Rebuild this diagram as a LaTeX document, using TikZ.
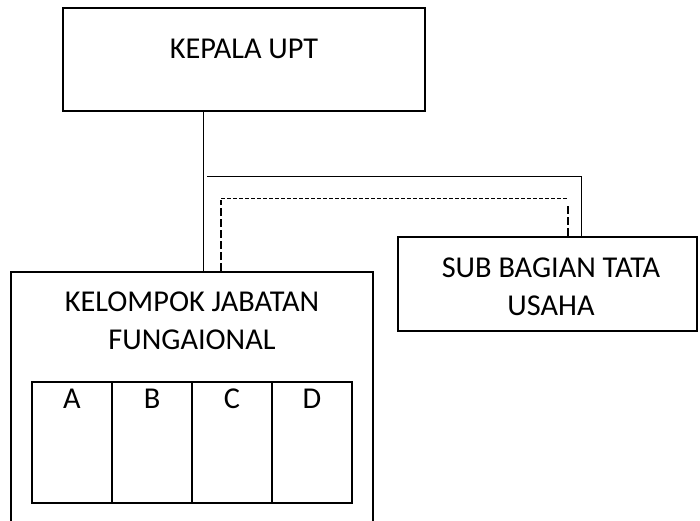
\documentclass[tikz,border=0pt]{standalone}
\usepackage{fontspec}
\setmainfont{Carlito}
\begin{document}
\begin{tikzpicture}[x=1pt,y=1pt,
  box/.style={draw=black, line width=1.8pt, inner sep=0pt, align=center},
  cellbox/.style={draw=black, line width=1.6pt, inner sep=0pt, minimum width=80pt, minimum height=121pt},
  lbl/.style={font=\fontsize{30.3}{37.5}\selectfont, align=center, inner sep=0pt},
  conn/.style={line width=1pt},
  thindash/.style={line width=1pt, dash pattern=on 4pt off 2pt},
  thickdash/.style={line width=2pt, dash pattern=on 8pt off 3pt}]
\clip (0,0) rectangle (700,520);
\useasboundingbox (0,0) rectangle (700,520);
% boxes
\node[box, minimum width=362pt, minimum height=103pt] (kepala) at (244,460.5) {};
\node[lbl] (kepalat) at (244,471) {KEPALA UPT};
\node[box, minimum width=299pt, minimum height=94pt] (sub) at (547.5,236) {};
\node[lbl] (subt) at (551,233) {SUB BAGIAN TATA\\USAHA};
\node[box, minimum width=362pt, minimum height=262pt] (kjf) at (192,117) {};
\node[lbl] (kjft) at (192,199) {KELOMPOK JABATAN\\FUNGAIONAL};
% table
\node[cellbox] (ca) at (72,77.5) {};
\node[cellbox] (cb) at (152,77.5) {};
\node[cellbox] (cc) at (232,77.5) {};
\node[cellbox] (cd) at (312,77.5) {};
\node[lbl, anchor=base] (la) at ([yshift=-27pt]ca.north) {A};
\node[lbl, anchor=base] (lb) at ([yshift=-27pt]cb.north) {B};
\node[lbl, anchor=base] (lc) at ([yshift=-27pt]cc.north) {C};
\node[lbl, anchor=base] (ld) at ([yshift=-27pt]cd.north) {D};
% connectors
\coordinate (vx) at (203,0);
\draw[conn] (kepala.south -| vx) -- (kjf.north -| vx);
\coordinate (hs) at (207,343);
\coordinate (hr) at (581,343);
\draw[conn] (hs) -- (hr) -- (sub.north -| hr);
\coordinate (dl) at (221,321);
\coordinate (dr) at (567,321);
\draw[thindash] (dl) -- (dr);
\draw[thickdash] (kjf.north -| dl) -- ([yshift=-1pt]dl);
\coordinate (drt) at (568,314);
\draw[thickdash] (drt) -- (sub.north -| drt);
\end{tikzpicture}
\end{document}
